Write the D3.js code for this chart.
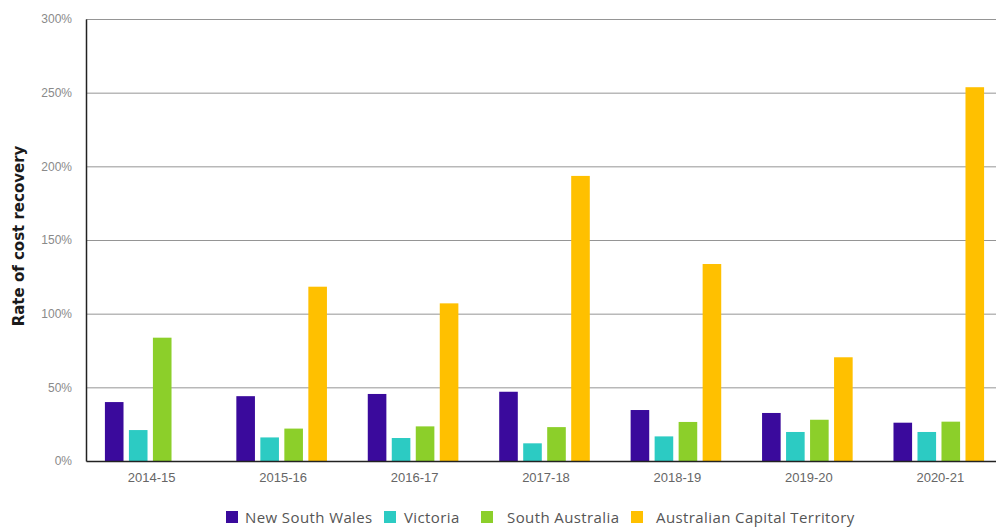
<!DOCTYPE html>
<html>
<head>
<meta charset="utf-8">
<script src="https://cdn.jsdelivr.net/npm/d3@7"></script>
<style>
  body { margin: 0; background: #fff; }
  svg { display: block; font-family: Lato, "Open Sans", sans-serif; }
</style>
</head>
<body>
<div id="chart"></div>
<script>
// data
var years = ["2014-15", "2015-16", "2016-17", "2017-18", "2018-19", "2019-20", "2020-21"];
var seriesNames = ["New South Wales", "Victoria", "South Australia", "Australian Capital Territory"];
var nswValues = [40, 44, 45.5, 47, 34.6, 32.6, 26];
var vicValues = [21, 16, 15.6, 12, 16.7, 19.7, 19.7];
var saValues = [83.7, 22, 23.5, 23, 26.5, 28, 26.7];
var actValues = [0, 118.3, 107, 193.5, 133.7, 70.4, 253.7];
var yTicks = [0, 50, 100, 150, 200, 250, 300];
var colors = ["#3a0a9c", "#2ccbc3", "#8ccf2a", "#ffc000"];

var vWidth = 996, vHeight = 530;
var vMargin = { mTop: 19, mRight: -10, mBottom: 69, mLeft: 86 };

var svg = d3.select("#chart").append("svg")
    .attr("width", vWidth)
    .attr("height", vHeight);

var allSeries = [nswValues, vicValues, saValues, actValues];

var vX = d3.scaleBand()
    .domain(years)
    .range([vMargin.mLeft, vWidth - vMargin.mRight])
    .paddingInner(0)
    .paddingOuter(0);

var vBarStep = 24, vBarW = 18.6;

var vY = d3.scaleLinear()
    .domain([0, 300])
    .range([vHeight - vMargin.mBottom, vMargin.mTop]);

// gridlines
svg.append("g")
    .selectAll("line")
    .data(yTicks.filter(function (d) { return d > 0; }))
    .enter().append("line")
    .attr("x1", vMargin.mLeft)
    .attr("x2", vWidth)
    .attr("y1", function (d) { return vY(d) + 0.5; })
    .attr("y2", function (d) { return vY(d) + 0.5; })
    .attr("stroke", "#959595")
    .attr("stroke-width", 1);

// bars
var groups = svg.append("g")
    .selectAll("g")
    .data(years)
    .enter().append("g")
    .attr("transform", function (d) {
        return "translate(" + (vX(d) + vX.bandwidth() / 2) + ",0)";
    });

groups.selectAll("rect")
    .data(function (d, i) {
        return allSeries.map(function (s, k) { return { k: k, v: s[i] }; });
    })
    .enter().append("rect")
    .attr("x", function (d) { return (d.k - 1.5) * vBarStep - vBarW / 2 - 1.5; })
    .attr("width", vBarW)
    .attr("y", function (d) { return vY(d.v); })
    .attr("height", function (d) { return vY(0) - vY(d.v); })
    .attr("fill", function (d) { return colors[d.k]; });

// axes
var yAxis = svg.append("g")
    .attr("transform", "translate(" + vMargin.mLeft + ",0)")
    .call(d3.axisLeft(vY).tickValues(yTicks).tickSize(0).tickPadding(14)
        .tickFormat(function (d) { return d + "%"; }));
yAxis.select(".domain").attr("stroke", "#222").attr("stroke-width", 1.5);
yAxis.selectAll("text").attr("fill", "#8a8a8a").style("font-size", "12px");

var xAxis = svg.append("g")
    .attr("transform", "translate(0," + vY(0) + ")")
    .call(d3.axisBottom(vX).tickSize(0).tickPadding(12));
xAxis.select(".domain").attr("stroke", "#222").attr("stroke-width", 1.5);
xAxis.selectAll("text").attr("fill", "#666").style("font-size", "13px");

// y axis title
svg.append("text")
    .attr("transform", "translate(24,236) rotate(-90)")
    .attr("text-anchor", "middle")
    .style("font-family", "'DejaVu Sans', sans-serif")
    .style("font-size", "15px")
    .style("font-weight", "bold")
    .attr("fill", "#1a1a1a")
    .text("Rate of cost recovery");

// legend
var legendX = [226, 384, 481, 631];
var legendTextX = [245, 404, 507, 656];
var legend = svg.append("g")
    .selectAll("g")
    .data(seriesNames)
    .enter().append("g");
legend.append("rect")
    .attr("x", function (d, i) { return legendX[i]; })
    .attr("y", 511)
    .attr("width", 12)
    .attr("height", 12)
    .attr("fill", function (d, i) { return colors[i]; });
legend.append("text")
    .attr("x", function (d, i) { return legendTextX[i]; })
    .attr("y", 522.5)
    .style("font-family", "'Open Sans', sans-serif")
    .style("font-size", "15px")
    .style("letter-spacing", "0.4px")
    .attr("fill", "#555")
    .text(function (d) { return d; });
</script>
</body>
</html>
